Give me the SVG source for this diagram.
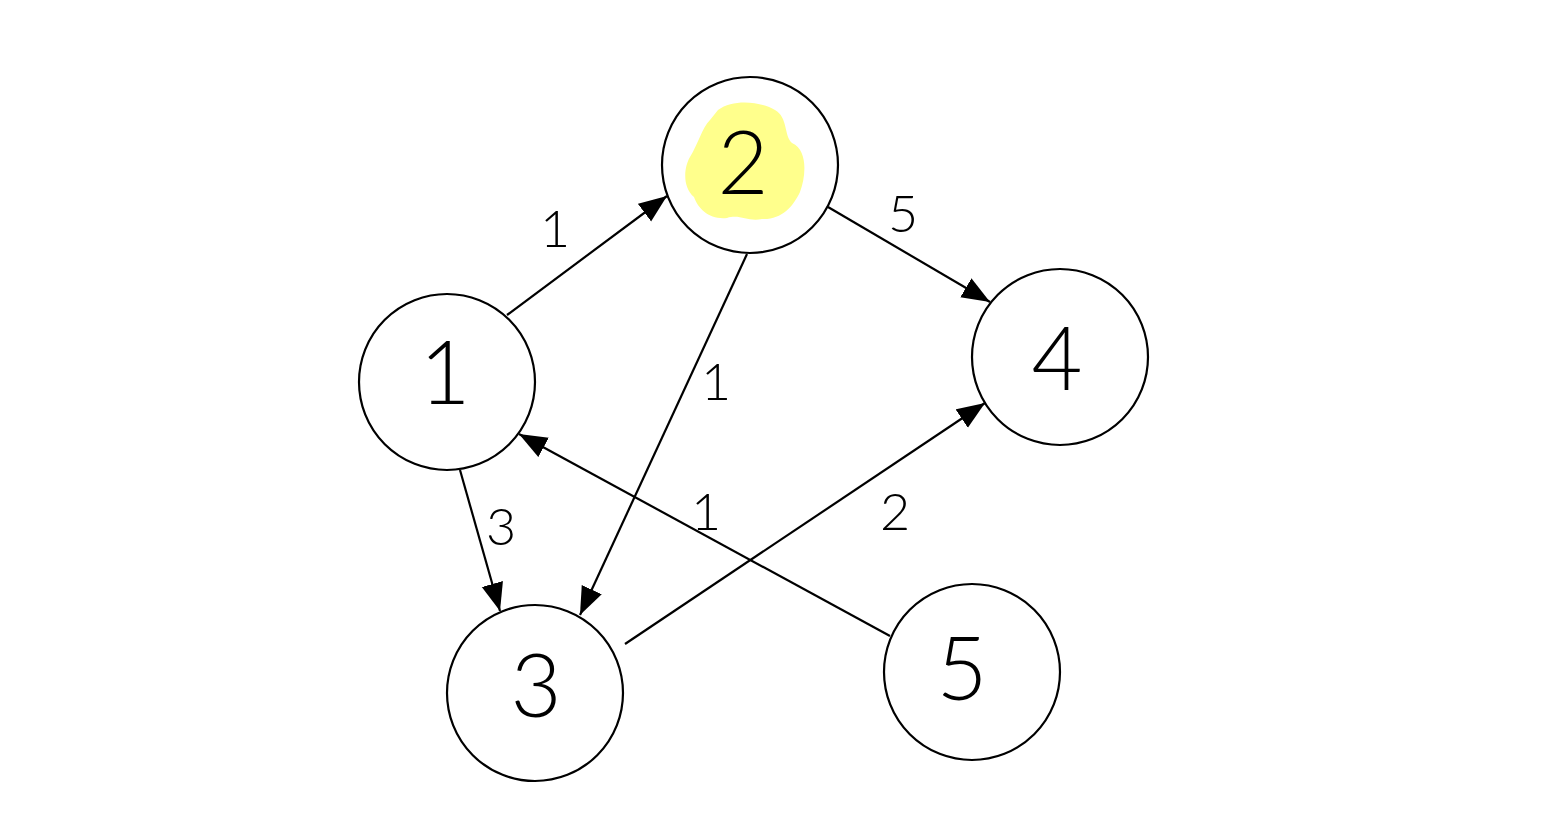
<svg xmlns="http://www.w3.org/2000/svg" width="1550" height="834" viewBox="0 0 1550 834">
<style>
.node circle{fill:none;stroke:#000;stroke-width:2.2}
.nl{font-family:Lato,"Liberation Sans",sans-serif;font-weight:300;font-size:88px;fill:#000;text-anchor:middle}
.el{font-family:Lato,"Liberation Sans",sans-serif;font-weight:300;font-size:52px;fill:#000;text-anchor:middle}
.edge{stroke:#000;stroke-width:2.2;fill:none;marker-end:url(#ah)}
</style>
<defs>
<marker id="ah" markerUnits="userSpaceOnUse" markerWidth="30" markerHeight="24" refX="28" refY="11" orient="auto">
<path d="M0,0 L28,11 L0,22 Z" fill="#000"/>
</marker>
</defs>
<rect width="1550" height="834" fill="#fff"/>
<g id="connectors">
<line class="edge" x1="507" y1="315" x2="667" y2="196"/>
<line class="edge" x1="828" y1="207" x2="990" y2="302"/>
<line class="edge" x1="747" y1="254" x2="580" y2="615"/>
<line class="edge" x1="460" y1="470" x2="500" y2="611"/>
<line class="edge" x1="625" y1="644" x2="985" y2="403"/>
<line class="edge" x1="890" y1="636" x2="519" y2="434"/>
<text class="el" x="555" y="247">1</text>
<text class="el" x="903" y="232">5</text>
<text class="el" x="716" y="400">1</text>
<text class="el" x="501" y="545">3</text>
<text class="el" x="895" y="530">2</text>
<text class="el" x="706" y="530">1</text>
</g>
<g id="node1" class="node"><circle cx="447" cy="382" r="88"/><text class="nl" x="445" y="404">1</text></g>
<g id="node2" class="node">
<path d="M718,110 C734,98 762,102 775,110 C788,117 784,136 792,143 C808,150 806,176 800,192 C793,207 781,220 762,219 C748,222 740,214 727,218 C710,220 698,209 694,197 C682,187 684,167 690,157 C698,144 702,128 710,120 Z" fill="#ffff8c" stroke="none"/>
<circle cx="750" cy="165" r="88"/><text class="nl" x="743" y="194">2</text></g>
<g id="node3" class="node"><circle cx="535" cy="693" r="88"/><text class="nl" x="536" y="717">3</text></g>
<g id="node4" class="node"><circle cx="1060" cy="357" r="88"/><text class="nl" x="1057" y="390">4</text></g>
<g id="node5" class="node"><circle cx="972" cy="672" r="88"/><text class="nl" x="962" y="700">5</text></g>
</svg>
